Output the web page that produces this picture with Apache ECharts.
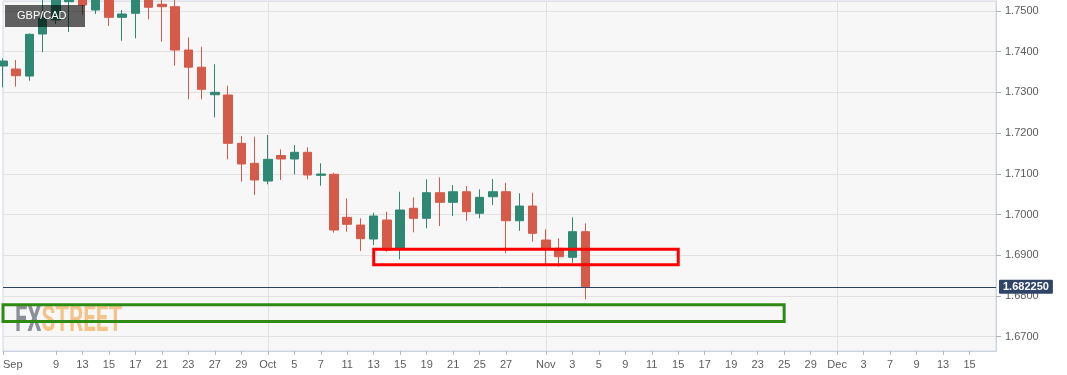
<!DOCTYPE html>
<html>
<head>
<meta charset="utf-8">
<script src="https://cdn.jsdelivr.net/npm/echarts@6/dist/echarts.min.js"></script>
<style>
html,body{margin:0;padding:0;background:#fff;}
#chart{width:1067px;height:375px;}
</style>
</head>
<body>
<div id="chart"></div>
<script>
// Trading-day slots (weekdays), 3 Sep 2021 .. 17 Dec 2021
const categories = [
 '2021-09-03','2021-09-06','2021-09-07','2021-09-08','2021-09-09','2021-09-10',
 '2021-09-13','2021-09-14','2021-09-15','2021-09-16','2021-09-17',
 '2021-09-20','2021-09-21','2021-09-22','2021-09-23','2021-09-24',
 '2021-09-27','2021-09-28','2021-09-29','2021-09-30','2021-10-01',
 '2021-10-04','2021-10-05','2021-10-06','2021-10-07','2021-10-08',
 '2021-10-11','2021-10-12','2021-10-13','2021-10-14','2021-10-15',
 '2021-10-18','2021-10-19','2021-10-20','2021-10-21','2021-10-22',
 '2021-10-25','2021-10-26','2021-10-27','2021-10-28','2021-10-29',
 '2021-11-01','2021-11-02','2021-11-03','2021-11-04','2021-11-05',
 '2021-11-08','2021-11-09','2021-11-10','2021-11-11','2021-11-12',
 '2021-11-15','2021-11-16','2021-11-17','2021-11-18','2021-11-19',
 '2021-11-22','2021-11-23','2021-11-24','2021-11-25','2021-11-26',
 '2021-11-29','2021-11-30','2021-12-01','2021-12-02','2021-12-03',
 '2021-12-06','2021-12-07','2021-12-08','2021-12-09','2021-12-10',
 '2021-12-13','2021-12-14','2021-12-15','2021-12-16','2021-12-17'
];

// GBP/CAD daily OHLC
const opens = [
 1.73649,1.73575,1.73403,1.74435,1.74779,1.75228,1.75400,1.75025,1.75400,1.74845,
 1.74944,1.75320,1.75165,1.75106,1.74042,1.73620,1.72944,1.72937,1.71750,1.71259,
 1.70824,1.71450,1.71365,1.71529,1.70964,1.70989,1.69932,1.69743,1.69399,1.69866,
 1.69146,1.70154,1.69908,1.70537,1.70301,1.70561,1.70031,1.70438,1.70561,1.69849,
 1.70210,1.69375,1.69171,1.68950,1.69579
];
const closes = [
 1.73772,1.73411,1.74428,1.74828,1.75290,1.75350,1.75147,1.75380,1.74845,1.74926,
 1.75300,1.75091,1.75106,1.74042,1.73620,1.73077,1.73003,1.71750,1.71242,1.70849,
 1.71357,1.71365,1.71529,1.70972,1.70996,1.69621,1.69761,1.69407,1.69964,1.69129,
 1.70112,1.69908,1.70537,1.70301,1.70561,1.70070,1.70424,1.70561,1.69849,1.70210,
 1.69539,1.69171,1.68965,1.69579,1.68225
];
const lows = [
 1.73126,1.73141,1.73288,1.73986,1.74681,1.74484,1.74902,1.74926,1.74632,1.74270,
 1.74329,1.74796,1.74246,1.73656,1.72831,1.72831,1.72389,1.71357,1.70807,1.70480,
 1.70743,1.70849,1.70989,1.70866,1.70709,1.69554,1.69579,1.69105,1.69252,1.69088,
 1.68901,1.69564,1.69662,1.69719,1.69964,1.69849,1.69908,1.70235,1.69048,1.69603,
 1.69333,1.68761,1.68719,1.68817,1.67918
];
const highs = [
 1.73838,1.73796,1.74447,1.75300,1.75400,1.75450,1.75550,1.75500,1.75520,1.75025,
 1.75400,1.75450,1.75350,1.75320,1.74354,1.74123,1.73691,1.73165,1.71930,1.71912,
 1.71954,1.71603,1.71708,1.71652,1.71259,1.71028,1.70399,1.69908,1.70045,1.70070,
 1.70561,1.70424,1.70866,1.70915,1.70726,1.70701,1.70620,1.70873,1.70782,1.70522,
 1.70537,1.69638,1.69417,1.69932,1.69785
];

// x-axis tick labels
const labelDates = [
 '2021-09-03','2021-09-09','2021-09-13','2021-09-15','2021-09-17','2021-09-21','2021-09-23',
 '2021-09-27','2021-09-29','2021-10-01','2021-10-05','2021-10-07','2021-10-11','2021-10-13',
 '2021-10-15','2021-10-19','2021-10-21','2021-10-25','2021-10-27','2021-11-01','2021-11-03',
 '2021-11-05','2021-11-09','2021-11-11','2021-11-15','2021-11-17','2021-11-19','2021-11-23',
 '2021-11-25','2021-11-29','2021-12-01','2021-12-03','2021-12-07','2021-12-09','2021-12-13',
 '2021-12-15'
];
const labelTexts = [
 'Sep','9','13','15','17','21','23','27','29','Oct','5','7','11','13','15','19','21','25','27',
 'Nov','3','5','9','11','15','17','19','23','25','29','Dec','3','7','9','13','15'
];
const monthStarts = ['2021-10-01','2021-11-01','2021-12-01'];

// y-axis range
const yMin = 1.66649;
const yMax = 1.75246;
const lastPrice = 1.68225;

// highlighted zones
const redZone = { from: '2021-10-13', to: '2021-11-15', top: 1.69149, bottom: 1.68768 };
const greenZone = { from: '2021-09-03', to: '2021-11-25', top: 1.67783, bottom: 1.67373 };

const labelMap = {};
labelDates.forEach((d, i) => { labelMap[d] = labelTexts[i]; });
const hasLabel = (idx, val) => labelMap[val] !== undefined;

const ohlc = opens.map((o, i) => [o, closes[i], lows[i], highs[i]]);

const UP = '#2f8873';
const DOWN = '#d65a4a';
const FONT = 'Liberation Sans, Arial, sans-serif';

const chart = echarts.init(document.getElementById('chart'), null, { renderer: 'canvas' });
chart.setOption({
  animation: false,
  backgroundColor: '#ffffff',
  grid: {
    left: 1, right: 71, top: 1, bottom: 24,
    show: true, backgroundColor: '#f7f7f7', borderColor: '#d3d8ea', borderWidth: 1
  },
  xAxis: {
    type: 'category',
    data: categories,
    boundaryGap: false,
    axisLine: { lineStyle: { color: '#cdd2e2', width: 1 } },
    axisTick: { show: true, interval: hasLabel, length: 4, lineStyle: { color: '#b5b9c6' } },
    axisLabel: {
      interval: hasLabel,
      formatter: (v) => labelMap[v] || '',
      color: '#5c5c5c', fontSize: 11, fontFamily: FONT, margin: 8,
      alignMinLabel: 'left'
    },
    splitLine: {
      show: true,
      interval: (idx, val) => monthStarts.indexOf(val) >= 0,
      lineStyle: { color: '#e1e1e1', width: 1 }
    }
  },
  yAxis: {
    type: 'value',
    position: 'right',
    min: yMin, max: yMax,
    minInterval: 0.01, maxInterval: 0.01,
    scale: true,
    axisLine: { show: true, lineStyle: { color: '#cdd2e2' } },
    axisTick: { show: true, length: 5, lineStyle: { color: '#aab0c0' } },
    axisLabel: {
      showMinLabel: false, showMaxLabel: false, hideOverlap: false,
      formatter: (v) => v.toFixed(4),
      color: '#5c5c5c', fontSize: 11, fontFamily: FONT, margin: 9
    },
    splitLine: { show: true, lineStyle: { color: '#e1e1e1', width: 1 } }
  },
  series: [{
    type: 'candlestick',
    data: ohlc,
    barWidth: 9,
    clip: true,
    itemStyle: {
      color: UP, color0: DOWN,
      borderColor: UP, borderColor0: DOWN,
      borderWidth: 1
    },
    markLine: {
      silent: true,
      symbol: 'none',
      precision: 6,
      z: 6,
      data: [{ yAxis: lastPrice }],
      lineStyle: { color: '#2e4266', width: 1, type: 'solid' },
      label: {
        show: true, position: 'end', distance: 3,
        formatter: () => lastPrice.toFixed(6),
        backgroundColor: '#2f4468', color: '#ffffff',
        fontWeight: 'bold', fontSize: 11, fontFamily: FONT,
        padding: [2, 4, 1, 4], borderRadius: 1
      }
    },
    markArea: {
      silent: true,
      z: 10,
      data: [
        [
          { xAxis: redZone.from, yAxis: redZone.top,
            itemStyle: { color: 'rgba(0,0,0,0)', borderColor: '#ff0000', borderWidth: 3 } },
          { xAxis: redZone.to, yAxis: redZone.bottom }
        ],
        [
          { xAxis: greenZone.from, yAxis: greenZone.top,
            itemStyle: { color: 'rgba(0,0,0,0)', borderColor: '#2e8a12', borderWidth: 3 } },
          { xAxis: greenZone.to, yAxis: greenZone.bottom }
        ]
      ]
    }
  }],
  graphic: [
    {
      type: 'text', left: 15, top: 304, z: 1, silent: true,
      scaleX: 0.62,
      style: {
        text: '{a|FX}{b|STREET}',
        font: 'bold 36px Roboto, sans-serif',
        rich: {
          a: { fill: '#8b8f98', fontSize: 36, fontWeight: 'bold', fontFamily: 'Roboto, sans-serif' },
          b: { fill: '#f2c48a', fontSize: 36, fontWeight: 'bold', fontFamily: 'Roboto, sans-serif' }
        }
      }
    },
    {
      type: 'rect', left: 5, top: 5, z: 100, silent: true,
      shape: { width: 80, height: 22 },
      style: { fill: 'rgba(0,0,0,0.61)' }
    },
    {
      type: 'text', left: 17, top: 10, z: 101, silent: true,
      style: { text: 'GBP/CAD', fill: '#ffffff', font: '11px Liberation Sans, Arial, sans-serif' }
    }
  ]
});
</script>
</body>
</html>
